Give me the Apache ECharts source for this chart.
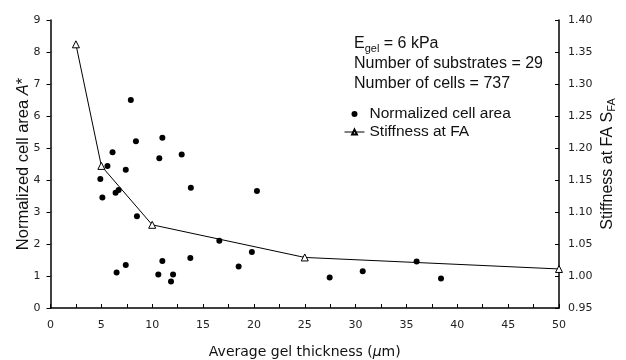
<!DOCTYPE html>
<html>
<head>
<meta charset="utf-8">
<script src="https://cdn.jsdelivr.net/npm/echarts@6/dist/echarts.min.js"></script>
<style>
  html, body { margin: 0; padding: 0; background: #fff; }
  #chart { width: 626px; height: 360px; }
</style>
</head>
<body>
<div id="chart"></div>
<script>
// average gel thickness (um) for each substrate, and its normalized cell area
const thickness = [7.9, 8.4, 11.0, 6.1, 10.7, 12.9, 5.6, 7.4, 4.9, 5.1, 6.4, 6.7, 13.8, 8.5, 16.6,
  6.5, 7.4, 11.0, 13.75, 10.6, 12.05, 11.85, 20.3, 19.8, 18.5, 27.45, 30.7, 36.0, 38.4];
const cellArea = [6.5, 5.21, 5.32, 4.87, 4.68, 4.8, 4.44, 4.32, 4.03, 3.45, 3.6, 3.69, 3.76, 2.87, 2.1,
  1.11, 1.34, 1.47, 1.56, 1.05, 1.05, 0.83, 3.66, 1.75, 1.3, 0.95, 1.15, 1.45, 0.92];

// stiffness at FA
const faThickness = [2.5, 5, 10, 25, 50];
const faStiffness = [1.362, 1.172, 1.08, 1.029, 1.011];

const textColor = "#111";
const tickFont = "DejaVu Sans";
const textFont = "Liberation Sans";

const chart = echarts.init(document.getElementById("chart"));

const options = {
  animation: false,
  backgroundColor: "#fff",
  grid: { left: 50.5, right: 67, top: 20, bottom: 52, outerBoundsMode: "none" },
  xAxis: {
    type: "value",
    min: 0,
    max: 50,
    interval: 2.5,
    name: "Average gel thickness ({i|μ}m)",
    nameLocation: "middle",
    nameGap: 37,
    nameMoveOverlap: false,
    nameTextStyle: {
      fontFamily: tickFont, fontSize: 14, color: textColor,
      rich: { i: { fontFamily: tickFont, fontSize: 14, fontStyle: "italic", color: textColor } },
    },
    axisLine: { show: true, lineStyle: { color: "#000", width: 1.5 } },
    axisTick: { show: true, inside: true, length: 4, lineStyle: { color: "#000" } },
    axisLabel: {
      margin: 12, fontFamily: tickFont, fontSize: 11, color: "#222",
      formatter: (v) => (v % 5 === 0 ? String(v) : ""),
    },
    splitLine: { show: false },
  },
  yAxis: [
    {
      type: "value",
      position: "left",
      min: 0,
      max: 9,
      interval: 1,
      name: "Normalized cell area {i|A}*",
      nameLocation: "middle",
      nameRotate: 90,
      nameGap: 19,
      nameMoveOverlap: false,
      nameTextStyle: {
        fontFamily: textFont, fontSize: 16.5, color: textColor,
        rich: { i: { fontFamily: textFont, fontSize: 16.5, fontStyle: "italic", color: textColor } },
      },
      axisLine: { show: true, lineStyle: { color: "#000", width: 1.5 } },
      axisTick: { show: true, inside: false, length: 4, lineStyle: { color: "#000" } },
      axisLabel: { margin: 10, fontFamily: tickFont, fontSize: 11, color: "#222" },
      splitLine: { show: false },
    },
    {
      type: "value",
      position: "right",
      min: 0.95,
      max: 1.4,
      interval: 0.05,
      name: "Stiffness at FA S{sub|FA}",
      nameLocation: "middle",
      nameRotate: 90,
      nameGap: 40,
      nameMoveOverlap: false,
      nameTextStyle: {
        fontFamily: textFont, fontSize: 16, color: textColor,
        rich: { sub: { fontFamily: textFont, fontSize: 11, verticalAlign: "bottom", padding: [7, 0, 0, 0], color: textColor } },
      },
      axisLine: { show: true, lineStyle: { color: "#000", width: 1.5 } },
      axisTick: { show: true, inside: true, length: 4, lineStyle: { color: "#000" } },
      axisLabel: {
        margin: 9, fontFamily: tickFont, fontSize: 11, color: "#222",
        formatter: (v) => v.toFixed(2),
      },
      splitLine: { show: false },
    },
  ],
  legend: {
    orient: "vertical",
    left: 344,
    top: 106,
    padding: 0,
    itemWidth: 20,
    itemHeight: 6,
    itemGap: 2,
    textStyle: { fontFamily: textFont, fontSize: 15.5, color: textColor },
    data: [
      { name: "Normalized cell area", icon: "circle" },
      { name: "Stiffness at FA", lineStyle: { width: 1 } },
    ],
  },
  graphic: [
    {
      type: "text", left: 354, top: 36,
      style: {
        text: "E{sub|gel} = 6 kPa",
        font: "16px Liberation Sans", fill: textColor,
        rich: { sub: { fontFamily: textFont, fontSize: 11, padding: [9, 0, 0, 0], fill: textColor } },
      },
    },
    {
      type: "text", left: 354, top: 56,
      style: { text: "Number of substrates = 29", font: "16px Liberation Sans", fill: textColor },
    },
    {
      type: "text", left: 354, top: 76,
      style: { text: "Number of cells = 737", font: "16px Liberation Sans", fill: textColor },
    },
  ],
  series: [
    {
      name: "Normalized cell area",
      type: "scatter",
      xAxisIndex: 0,
      yAxisIndex: 0,
      symbol: "circle",
      symbolSize: 6,
      itemStyle: { color: "#000", opacity: 1 },
      data: thickness.map((t, i) => [t, cellArea[i]]),
    },
    {
      name: "Stiffness at FA",
      type: "line",
      xAxisIndex: 0,
      yAxisIndex: 1,
      symbol: "triangle",
      symbolSize: 7,
      showAllSymbol: true,
      lineStyle: { color: "#000", width: 1 },
      itemStyle: { color: "#fff", borderColor: "#000", borderWidth: 1 },
      data: faThickness.map((t, i) => [t, faStiffness[i]]),
      z: 3,
    },
  ],
};

chart.setOption(options);
</script>
</body>
</html>
